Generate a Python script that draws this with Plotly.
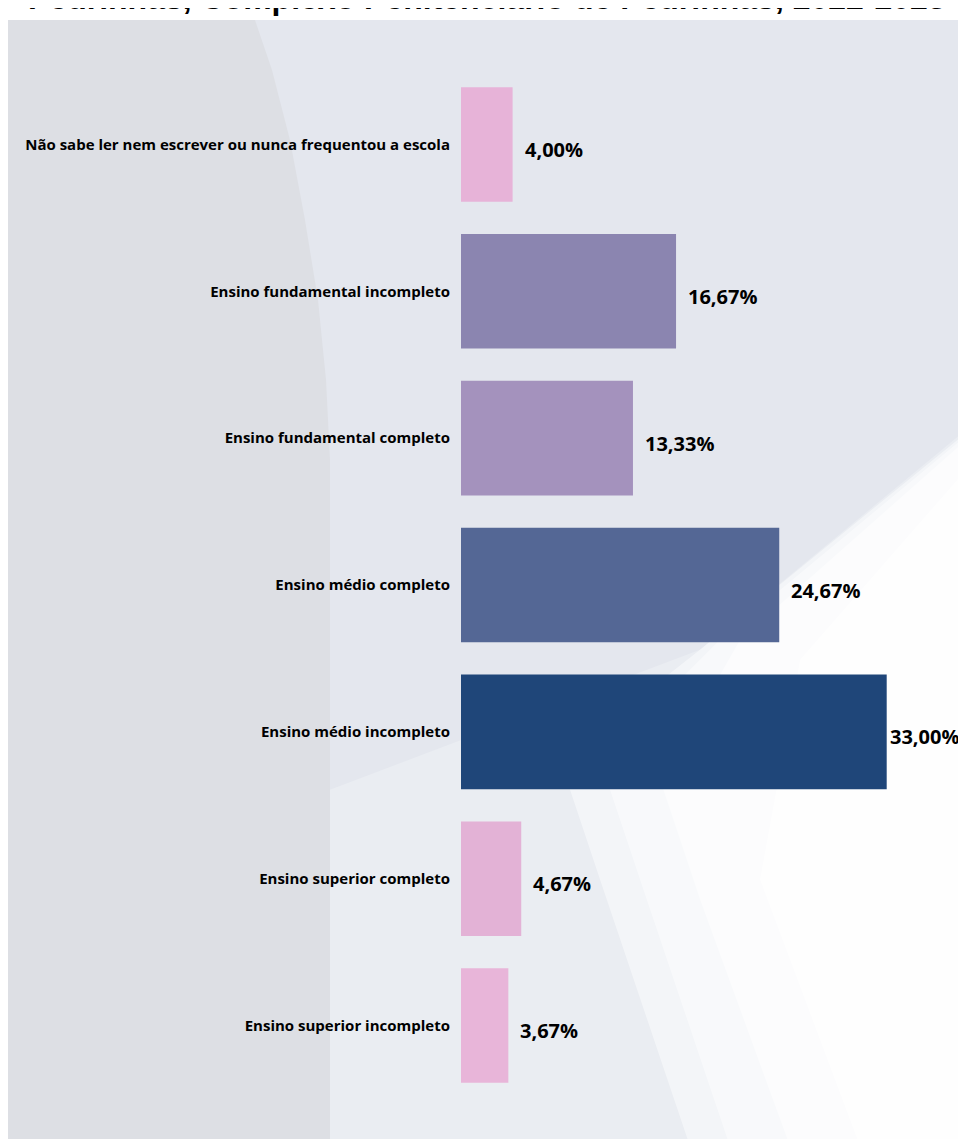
import plotly.graph_objects as go

# Escolaridade - Complexo Penitenciário de Pedrinhas
categorias = [
    "Não sabe ler nem escrever ou nunca frequentou a escola",
    "Ensino fundamental incompleto",
    "Ensino fundamental completo",
    "Ensino médio completo",
    "Ensino médio incompleto",
    "Ensino superior completo",
    "Ensino superior incompleto",
]
percentuais = [4.00, 16.67, 13.33, 24.67, 33.00, 4.67, 3.67]
cores = ["#e7b3d8", "#8b85b0", "#a492bd", "#546795", "#1f4679", "#e3b2d6", "#e8b5d9"]

# plot div sits 8px inside the page (body margin); size so nothing overflows
OFF = 8
W, H = 966 - 2 * OFF, 1147 - 2 * OFF
ML, MR, MT = 461 - OFF, 0, 71 - OFF
MB = H - (1099.5 - OFF)
PX_PER_UNIT = 12.9


def px(x, y):
    """screen pixel -> paper coords"""
    x, y = x - OFF, y - OFF
    return ((x - ML) / (W - ML - MR), (H - MB - y) / (H - MT - MB))


def path(points):
    s = ""
    for i, (x, y) in enumerate(points):
        a, b = px(x, y)
        s += ("M" if i == 0 else "L") + f"{a:.4f},{b:.4f} "
    return s + "Z"


def bg(points, color):
    return dict(type="path", xref="paper", yref="paper", path=path(points),
                fillcolor=color, line=dict(width=0), layer="below")


textos = [f"{v:.2f}%".replace(".", ",") for v in percentuais]
vmax = max(percentuais)

fig = go.Figure(go.Bar(
    x=percentuais, y=categorias, orientation="h",
    marker=dict(color=cores, line=dict(width=0)),
    hoverinfo="skip",
))

# value labels
annots = []
for cat, v, t in zip(categorias, percentuais, textos):
    annots.append(dict(
        x=v, y=cat, xref="x", yref="y", text=f"<b>{t}</b>", showarrow=False,
        xanchor="left", yanchor="middle", xshift=1 if v == vmax else 10, yshift=-5,
        font=dict(family="Open Sans", size=20, color="black")))

annots.append(dict(
    text="<b>Pedrinhas, Complexo Penitenciário de Pedrinhas, 2022-2023</b>",
    xref="paper", yref="paper", x=px(487, 0)[0], y=px(0, -2)[1],
    xanchor="center", yanchor="middle", showarrow=False,
    font=dict(family="Liberation Sans, Arial", size=32, color="black")))

# decorative background
shapes = [
    bg([(5, 20), (966, 20), (966, 1147), (5, 1147)], "#e4e7ee"),
    bg([(5, 20), (255, 20), (272, 70), (290, 140), (305, 220), (318, 300),
        (326, 380), (330, 460), (330, 1147), (5, 1147)], "#dddfe4"),
    bg([(966, 430), (700, 650), (330, 790), (330, 1147), (966, 1147)], "#eaedf2"),
    bg([(966, 433), (700, 650), (560, 760), (600, 880), (690, 1147), (966, 1147)],
       "rgba(255,255,255,0.45)"),
    bg([(966, 436), (720, 640), (600, 760), (640, 880), (730, 1147), (966, 1147)],
       "rgba(255,255,255,0.45)"),
    bg([(966, 440), (740, 640), (660, 780), (700, 900), (790, 1147), (966, 1147)],
       "rgba(255,255,255,0.5)"),
    bg([(966, 470), (800, 660), (760, 880), (860, 1147), (966, 1147)],
       "rgba(255,255,255,0.6)"),
]

fig.update_layout(
    width=W, height=H,
    margin=dict(l=ML, r=MR, t=MT, b=MB, pad=0),
    paper_bgcolor="white", plot_bgcolor="rgba(0,0,0,0)",
    showlegend=False, bargap=0.22, shapes=shapes, annotations=annots,
    xaxis=dict(range=[0, (W - ML) / PX_PER_UNIT], visible=False, fixedrange=True),
    yaxis=dict(autorange="reversed", showgrid=False, zeroline=False, showline=False,
               ticks="", ticklabelstandoff=10,
               tickfont=dict(family="Open Sans", size=15, color="black", weight="bold")),
)

fig.write_html("out.html")
